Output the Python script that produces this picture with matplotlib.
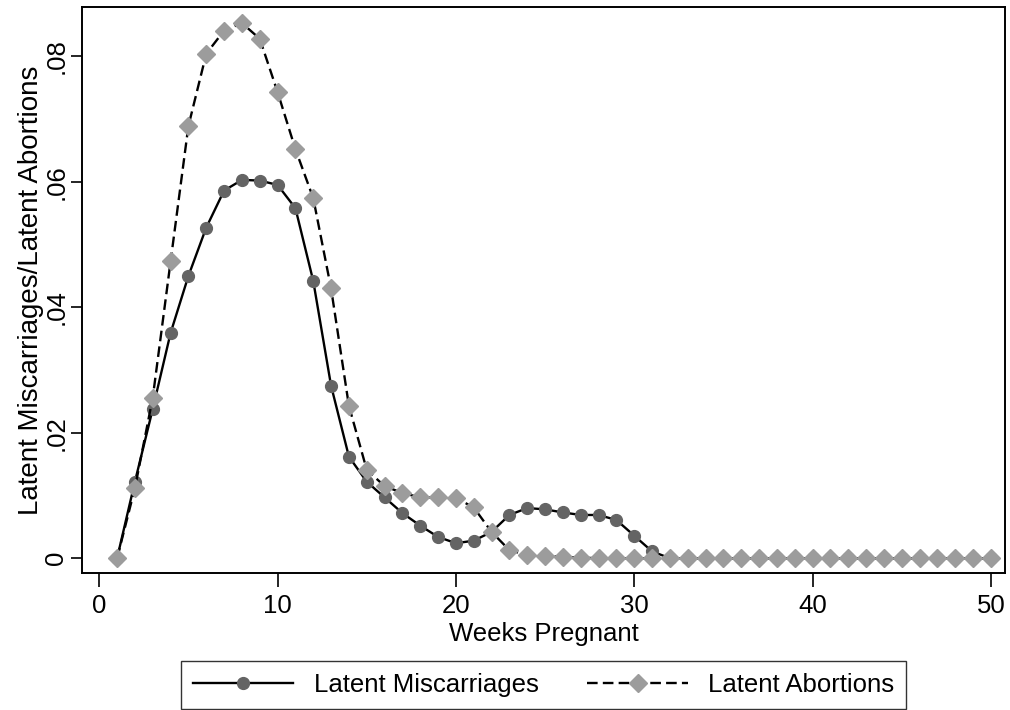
import numpy as np
import matplotlib.pyplot as plt

plt.rcParams['font.family'] = ['Liberation Sans', 'DejaVu Sans']

# data
weeks = np.arange(1, 51)
miscarriages = [0.0, 0.0122, 0.0238, 0.0359, 0.0450, 0.0527, 0.0586, 0.0603, 0.0602, 0.0595,
                0.0558, 0.0442, 0.0275, 0.0162, 0.0122, 0.0097, 0.0072, 0.0052, 0.0034, 0.0024,
                0.0028, 0.0042, 0.0069, 0.0080, 0.0078, 0.0073, 0.0069, 0.0069, 0.0061, 0.0036,
                0.0011] + [0.0] * 19
abortions = [0.0, 0.0112, 0.0256, 0.0473, 0.0689, 0.0804, 0.0841, 0.0853, 0.0828, 0.0743,
             0.0652, 0.0574, 0.0430, 0.0243, 0.0141, 0.0115, 0.0104, 0.0097, 0.0097, 0.0096,
             0.0081, 0.0042, 0.0013, 0.0005, 0.0004, 0.0002, 0.0001] + [0.0] * 23

xticks = [0, 10, 20, 30, 40, 50]
yticks = [0, 0.02, 0.04, 0.06, 0.08]
ytick_labels = ["0", ".02", ".04", ".06", ".08"]

fs = 18.5

fig = plt.figure(figsize=(10.1, 7.1), dpi=100)
ax = fig.add_axes([0.0815, 0.1925, 0.9135, 0.798])

ax.plot(weeks, miscarriages, color="black", lw=1.7, marker="o", markersize=8.5,
        markerfacecolor="#646464", markeredgecolor="#646464", label="Latent Miscarriages")
ax.plot(weeks, abortions, color="black", lw=1.7, dashes=(4.5, 2.2), marker="D", markersize=8.8,
        markerfacecolor="#9c9c9c", markeredgecolor="#9c9c9c", label="Latent Abortions")

ax.set_xlim(-0.95, 50.79)
ax.set_ylim(-0.0024, 0.0879)
ax.set_xticks(xticks)
ax.set_xticklabels([str(t) for t in xticks], fontsize=fs)
ax.set_yticks(yticks)
ax.set_yticklabels(ytick_labels, fontsize=fs, rotation=90, va="center")
ax.tick_params(axis="x", direction="out", length=10, width=1.2, pad=5)
ax.tick_params(axis="y", direction="out", length=8, width=1.2, pad=2)
for s in ax.spines.values():
    s.set_linewidth(1.4)

ax.set_xlabel("Weeks Pregnant", fontsize=fs, labelpad=3)
ax.set_ylabel("Latent Miscarriages/Latent Abortions", fontsize=20, labelpad=0)

leg = fig.legend(loc="lower center", bbox_to_anchor=(0.5383, -0.016), ncol=2,
                 fontsize=fs, frameon=True, fancybox=False, edgecolor="black",
                 handlelength=3.9, handletextpad=0.8, columnspacing=1.9,
                 numpoints=1, borderpad=0.45)
leg.get_frame().set_linewidth(1.0)

fig.savefig("out.png", dpi=100)
